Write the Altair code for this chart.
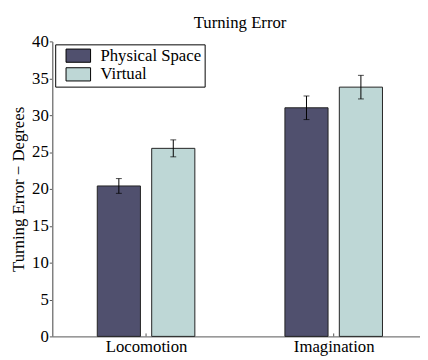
import altair as alt
import pandas as pd

categories = ["Locomotion", "Imagination"]
series = ["Physical Space", "Virtual"]
physical_mean = [20.4, 31.0]
physical_err = [1.0, 1.6]
virtual_mean = [25.5, 33.8]
virtual_err = [1.15, 1.6]
y_ticks = [0, 5, 10, 15, 20, 25, 30, 35, 40]

rows = []
for i, c in enumerate(categories):
    rows.append({"cat": c, "idx": i + 1, "series": series[0], "off": -0.145,
                 "mean": physical_mean[i], "err": physical_err[i]})
    rows.append({"cat": c, "idx": i + 1, "series": series[1], "off": 0.145,
                 "mean": virtual_mean[i], "err": virtual_err[i]})
df = pd.DataFrame(rows)

font = "Liberation Serif"
FS = 17
W, H = 374, 300

xscale = alt.Scale(domain=[0.5, 2.46], nice=False, zero=False)
yscale = alt.Scale(domain=[0, 40], nice=False)

xaxis = alt.Axis(values=[1, 2], labelExpr="datum.value == 1 ? 'Locomotion' : 'Imagination'",
                 title=None, tickSize=0, labelFontSize=FS, labelFont=font,
                 labelColor="black", labelPadding=2, domainColor="#555555",
                 labelOverlap=False, grid=False)
yaxis = alt.Axis(values=y_ticks, title="Turning Error \u2212 Degrees",
                 titleFont=font, titleFontSize=FS, titleFontWeight="normal",
                 titleColor="black", titlePadding=4,
                 labelFont=font, labelFontSize=FS, labelColor="black",
                 tickSize=3, tickColor="#555555", labelPadding=1,
                 labelOverlap=False, labelFlush=False,
                 domainColor="#808080", domainWidth=1.5, grid=False)

base = alt.Chart(df).transform_calculate(
    xc="datum.idx + datum.off",
    x0="datum.idx + datum.off - 0.115",
    x1="datum.idx + datum.off + 0.115",
    lo="datum.mean - datum.err",
    hi="datum.mean + datum.err",
)

bars = base.mark_bar(stroke="#222222", strokeWidth=1).encode(
    x=alt.X("x0:Q", scale=xscale, axis=xaxis),
    x2="x1:Q",
    y=alt.Y("mean:Q", scale=yscale, axis=yaxis),
    y2=alt.datum(0),
    fill=alt.Fill("series:N", scale=alt.Scale(domain=series, range=["#50506E", "#BED7D6"]),
                  legend=alt.Legend(title=None, orient="none", legendX=3, legendY=3,
                                    strokeColor="black", fillColor="white", padding=3,
                                    symbolType="M-1.56,-0.84H1.56V0.84H-1.56Z", symbolSize=256,
                                    symbolStrokeColor="black", symbolStrokeWidth=1,
                                    symbolOffset=12,
                                    labelFont=font, labelFontSize=FS, labelColor="black",
                                    labelExpr="datum.label + '\u00a0\u00a0'",
                                    labelOffset=14, rowPadding=0, symbolOpacity=1)),
)

rules = base.mark_rule(color="black", strokeWidth=1).encode(
    x=alt.X("xc:Q", scale=xscale, axis=xaxis), y=alt.Y("lo:Q", scale=yscale, axis=yaxis), y2="hi:Q")
caps_lo = base.mark_tick(color="black", orient="horizontal", size=6, thickness=1).encode(
    x=alt.X("xc:Q", scale=xscale, axis=xaxis), y=alt.Y("lo:Q", scale=yscale, axis=yaxis))
caps_hi = base.mark_tick(color="black", orient="horizontal", size=6, thickness=1).encode(
    x=alt.X("xc:Q", scale=xscale, axis=xaxis), y=alt.Y("hi:Q", scale=yscale, axis=yaxis))

xt = alt.Chart(pd.DataFrame({"idx": [1, 2]})).mark_rule(color="#555555").encode(
    x=alt.X("idx:Q", scale=xscale, axis=xaxis), y=alt.value(H), y2=alt.value(H - 3))

chart = alt.layer(bars, rules, caps_lo, caps_hi, xt).properties(
    width=W, height=H,
    title=alt.TitleParams("Turning Error", font=font, fontSize=FS, fontWeight="normal",
                          color="black", anchor="middle", dx=4, offset=1),
    autosize=alt.AutoSizeParams(type="none"),
    padding={"left": 45, "top": 31, "right": 0, "bottom": 20},
).configure(font=font).configure_axis(
    labelFont=font, titleFont=font
).configure_legend(labelFont=font).configure_title(font=font).configure_view(stroke=None)

chart.save("out.html", embed_options={"renderer": "svg", "actions": False})
